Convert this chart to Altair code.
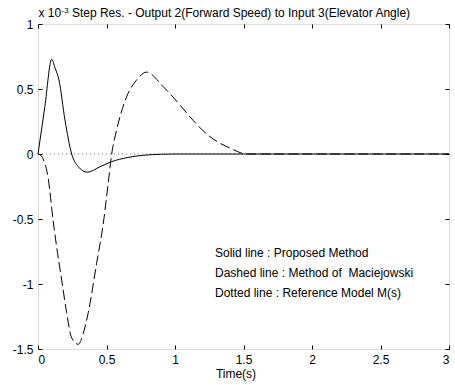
import altair as alt
import pandas as pd

# ---- data ----
solid_t = [0, 0.05, 0.10, 0.125, 0.153, 0.197, 0.246, 0.294, 0.36, 0.453, 0.538, 0.65, 0.766, 0.9, 1.0, 1.5, 2.0, 2.5, 3.0]
solid_v = [0, 0.364, 0.728, 0.66, 0.57, 0.26, 0.0, -0.098, -0.14, -0.098, -0.059, -0.028, -0.01, -0.002, 0, 0, 0, 0, 0]

dashed_t = [0, 0.02, 0.04, 0.06, 0.075, 0.088, 0.104, 0.136, 0.173, 0.209, 0.246, 0.294, 0.331, 0.367, 0.428,
            0.477, 0.513, 0.538, 0.574, 0.647, 0.72, 0.793, 0.912, 1.05, 1.131, 1.24, 1.40, 1.525, 1.6, 2.0, 2.5, 3.0]
dashed_v = [0, -0.01, -0.045, -0.11, -0.19, -0.30, -0.454, -0.713, -0.97, -1.22, -1.415, -1.464, -1.377, -1.22, -0.84,
            -0.53, -0.22, 0.0, 0.185, 0.44, 0.57, 0.63, 0.52, 0.36, 0.26, 0.146, 0.046, 0.0, 0, 0, 0, 0]

dotted_t = [0, 3]
dotted_v = [0, 0]

x_ticks = [0, 0.5, 1, 1.5, 2, 2.5, 3]
y_ticks = [-1.5, -1, -0.5, 0, 0.5, 1]

legend_text = ["Solid line : Proposed Method",
               "Dashed line : Method of\u00a0 Maciejowski",
               "Dotted line : Reference Model M(s)"]
legend_t = [1.292, 1.292, 1.292]
legend_v = [-0.79, -0.945, -1.10]

title_text = "Step Res. - Output 2(Forward Speed) to Input 3(Elevator Angle)"
FONT = "Liberation Sans"

solid_df = pd.DataFrame({"t": solid_t, "v": solid_v})
dashed_df = pd.DataFrame({"t": dashed_t, "v": dashed_v})
dotted_df = pd.DataFrame({"t": dotted_t, "v": dotted_v})
legend_df = pd.DataFrame({"t": legend_t, "v": legend_v, "label": legend_text})

xscale = alt.Scale(domain=[0, 3], nice=False, zero=False)
yscale = alt.Scale(domain=[-1.5, 1], nice=False, zero=False)

# dotted reference line carries the top / right inward tick axes (and the title)
dotted = alt.Chart(dotted_df).mark_line(color="#777777", strokeWidth=1, strokeDash=[1, 3]).encode(
    x=alt.X("t:Q", scale=xscale,
            axis=alt.Axis(orient="top", values=x_ticks, labels=False, domain=False, tickSize=4,
                          offset=-4, tickColor="black", grid=False,
                          title=title_text, titleAngle=0, titleAlign="center", titleBaseline="alphabetic",
                          titleFont=FONT, titleFontSize=12, titleFontWeight="normal", titleColor="black",
                          titleX=202.5, titleY=-12)),
    y=alt.Y("v:Q", scale=yscale,
            axis=alt.Axis(orient="right", values=y_ticks, labels=False, domain=False, tickSize=4,
                          offset=-4, tickColor="black", grid=False,
                          title="-3", titleAngle=0, titleAlign="left", titleBaseline="alphabetic",
                          titleFont=FONT, titleFontSize=8, titleFontWeight="normal", titleColor="black",
                          titleX=-384, titleY=-12)),
)

solid = alt.Chart(solid_df).mark_line(color="black", strokeWidth=1, interpolate="monotone").encode(
    x=alt.X("t:Q", scale=xscale,
            axis=alt.Axis(orient="bottom", values=x_ticks, domain=False, tickSize=4, offset=-4,
                          tickColor="black", labelPadding=5, labelExpr="datum.value + ''",
                          labelFont=FONT, labelFontSize=12, labelColor="black", grid=False,
                          title="Time(s)", titleFont=FONT, titleFontSize=12, titleFontWeight="normal",
                          titleColor="black", titlePadding=3, titleX=197.5, titleAlign="center")),
    y=alt.Y("v:Q", scale=yscale,
            axis=alt.Axis(orient="left", values=y_ticks, domain=False, tickSize=4, offset=-4,
                          tickColor="black", labelPadding=5, labelExpr="datum.value + ''",
                          labelFont=FONT, labelFontSize=12, labelColor="black", grid=False,
                          title="x 10", titleAngle=0, titleAlign="left", titleBaseline="alphabetic",
                          titleFont=FONT, titleFontSize=12, titleFontWeight="normal", titleColor="black",
                          titleX=-4, titleY=-8)),
)

dashed = alt.Chart(dashed_df).mark_line(color="black", strokeWidth=1, strokeDash=[10, 4],
                                         interpolate="monotone").encode(
    x=alt.X("t:Q", scale=xscale, axis=None),
    y=alt.Y("v:Q", scale=yscale, axis=None),
)

legend = alt.Chart(legend_df).mark_text(align="left", baseline="alphabetic", font=FONT, fontSize=12,
                                        color="black").encode(
    x=alt.X("t:Q", scale=xscale, axis=None),
    y=alt.Y("v:Q", scale=yscale, axis=None),
    text="label:N",
)

chart = alt.layer(dotted, solid, dashed, legend).resolve_axis(
    x="independent", y="independent"
).properties(
    width=411, height=325,
    padding={"left": 38, "top": 24, "right": 6, "bottom": 36},
    autosize=alt.AutoSizeParams(type="none"),
).configure_view(stroke="black", strokeWidth=1).configure(background="white")

chart.save("out.html", embed_options={"renderer": "svg", "actions": False})
